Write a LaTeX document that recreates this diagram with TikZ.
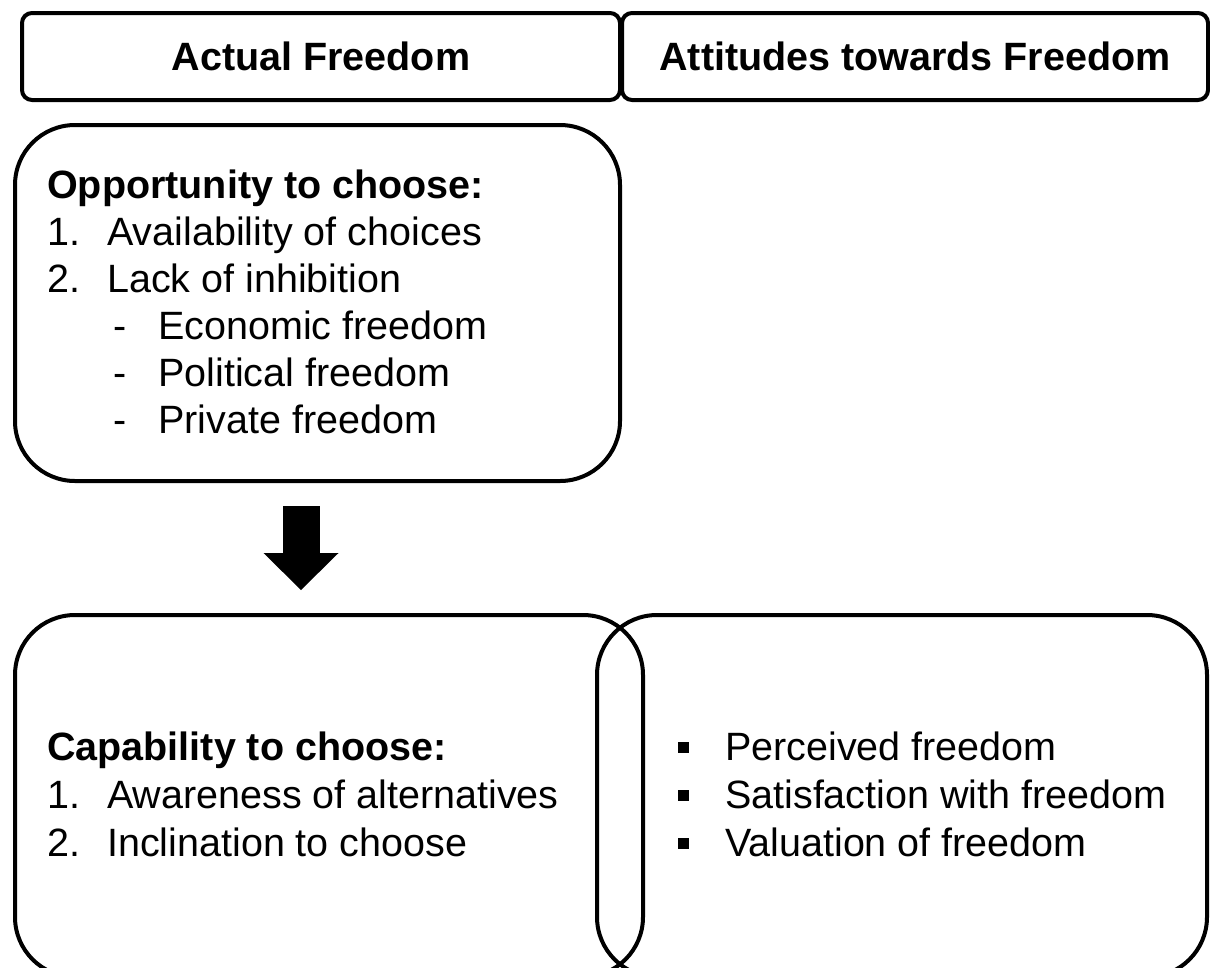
\documentclass[tikz,border=0pt]{standalone}
\usepackage{fontspec}
\setmainfont{Liberation Sans}
\usetikzlibrary{arrows.meta}

\begin{document}
\begin{tikzpicture}[x=1pt,y=-1pt,
    panel/.style={draw,line width=4pt,rounded corners=#1,inner sep=0pt},
    txt/.style={anchor=base west,inner sep=0pt,font=\fontsize{39.5}{47}\selectfont},
    hd/.style={txt,font=\fontsize{39.5}{47}\selectfont\bfseries},
    sq/.style={fill,minimum size=11,inner sep=0pt},
    bigarrow/.style={line width=37pt,-{Triangle[length=37pt,width=75pt,line width=0pt]}}]
            \useasboundingbox (0,0) rectangle (1210,967);
            \clip (0,0) rectangle (1210,967);
            % headers
            \node[panel=10,minimum width=598,minimum height=87,font=\fontsize{39.5}{47}\selectfont\bfseries] (AF) at (321,56.5) {Actual Freedom};
            \node[panel=10,minimum width=586,minimum height=87,font=\fontsize{39.5}{47}\selectfont\bfseries] (AT) at (915,56.5) {Attitudes towards Freedom};
            % boxes
            \node[panel=60,minimum width=605,minimum height=356] (OPP) at (317.5,303) {};
            \node[panel=60,minimum width=628,minimum height=362] (CAP) at (329,796) {};
            \node[panel=60,minimum width=610,minimum height=362] (ATT) at (902,796) {};
            % opportunity
            \node[hd] (OH) at (47,198) {Opportunity to choose:};
            \node[txt] (O1n) at (47,245) {1.};
            \node[txt] (O1) at (107,245) {Availability of choices};
            \node[txt] (O2n) at (47,292) {2.};
            \node[txt] (O2) at (107,292) {Lack of inhibition};
            \node[txt] (O2ad) at (113,339) {-};
            \node[txt] (O2a) at (158,339) {Economic freedom};
            \node[txt] (O2bd) at (113,386) {-};
            \node[txt] (O2b) at (158,386) {Political freedom};
            \node[txt] (O2cd) at (113,433) {-};
            \node[txt] (O2c) at (158,433) {Private freedom};
            % capability
            \node[hd] (CH) at (47,760) {Capability to choose:};
            \node[txt] (C1n) at (47,808) {1.};
            \node[txt] (C1) at (107,808) {Awareness of alternatives};
            \node[txt] (C2n) at (47,856) {2.};
            \node[txt] (C2) at (107,856) {Inclination to choose};
            % attitudes
            \node[sq] (T1s) at (683,747) {};
            \node[txt] (T1) at (725,760) {Perceived freedom};
            \node[sq] (T2s) at (683,795) {};
            \node[txt] (T2) at (725,808) {Satisfaction with freedom};
            \node[sq] (T3s) at (683,843) {};
            \node[txt] (T3) at (725,856) {Valuation of freedom};
            % arrow
            \coordinate (A1) at (301,506);
            \coordinate (A2) at (301,590);
            \draw[bigarrow] (A1) -- (A2);
        \end{tikzpicture}
\end{document}
